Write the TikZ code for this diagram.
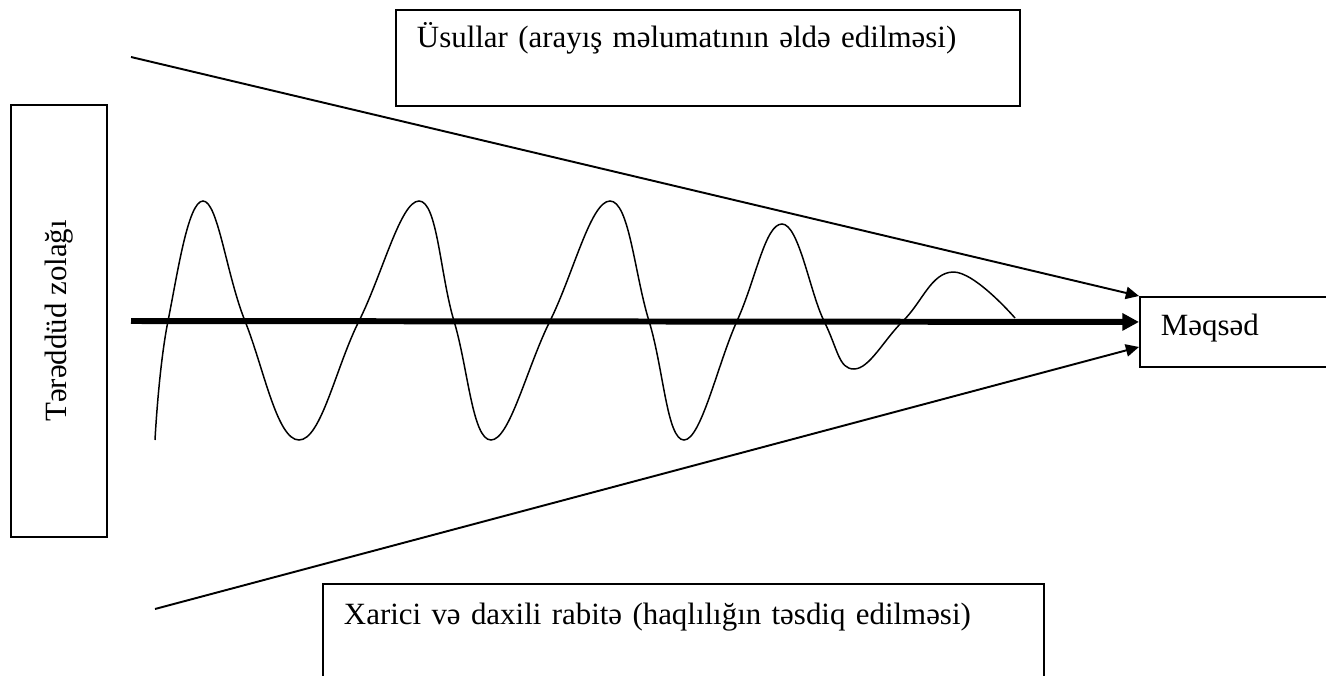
\documentclass[tikz,border=0pt]{standalone}
\usepackage{fontspec}
\setmainfont{Liberation Serif}
\usetikzlibrary{arrows.meta}

\begin{document}
\begin{tikzpicture}[
  x=0.02cm, y=-0.02cm,
  every node/.style={font=\fontsize{17.6}{21}\selectfont},
  panel/.style={
    rectangle,
    draw=black,
    line width=1.1pt,
    anchor=north west,
    align=left,
    inner xsep=0.42cm,
    inner ysep=0pt
  },
  band/.style={
    rectangle,
    draw=black,
    line width=1.1pt,
    rotate=90,
    minimum width=8.64cm,
    minimum height=1.92cm
  },
  arrow/.style={-{Triangle[length=7.5pt,width=7pt]},line width=1.1pt},
  mainarrow/.style={-{Triangle[length=9.5pt,width=9.5pt]},line width=3.4pt},
  wave/.style={line width=0.85pt}
]
\useasboundingbox (0,0) rectangle (1326,676);

% Boxes
\node[panel, text width=11.64cm, text height=0.76cm, text depth=1.16cm] (methods) at (395,9) {Üsullar (arayış məlumatının əldə edilməsi)};
\node[panel, text width=13.58cm, text height=0.82cm, text depth=2cm] (links) at (322,583) {Xarici və daxili rabitə (haqlılığın təsdiq edilməsi)};
\node[panel, text width=3.56cm, text height=0.78cm, text depth=0.62cm] (goal) at (1139,296) {Məqsəd};
\node[band] (doubt) at (59,321) {Tərəddüd zolağı};

% Free ends
\coordinate (topstart) at (131,57);
\coordinate (midstart) at (131,321);
\coordinate (lowstart) at (155,609);

% Wave
\draw[wave] plot[smooth, tension=0.7] coordinates {
  (155,440) (168,321) (203,201) (245,321) (299,440) (359,321) (419,201)
  (454,321) (491,440) (550,321) (610,201) (649,321) (684,440) (737,321)
  (782,224) (824,321) (854,369) (903,321) (953,272) (1015,318)};

% Connections
\draw[arrow] (topstart) -- (goal.north west);
\draw[mainarrow] (midstart) -- ([yshift=0.2cm]goal.west);
\draw[arrow] (lowstart) -- ([yshift=-0.3cm]goal.west);

\end{tikzpicture}
\end{document}
